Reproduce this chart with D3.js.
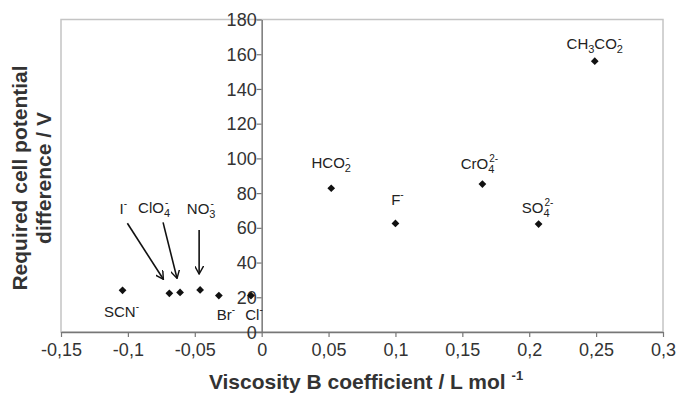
<!DOCTYPE html>
<html><head><meta charset="utf-8">
<script src="https://cdn.jsdelivr.net/npm/d3@7"></script>
<style>
body{margin:0;background:#fff;}
svg{display:block;font-family:"Liberation Sans",Arial,sans-serif;}
</style></head>
<body><div id="chart"></div>
<script>
// ---- data ----
const ions = ["SCN", "I", "ClO4", "NO3", "Br", "Cl", "HCO2", "F", "CrO4", "SO4", "CH3CO2"];
const viscosityB = [-0.104, -0.069, -0.061, -0.046, -0.032, -0.008, 0.052, 0.100, 0.165, 0.207, 0.249];
const cellPotential = [24, 22.3, 22.8, 24.2, 21, 21, 82.8, 62.5, 85.2, 62.2, 156];
const xTicks = [-0.15, -0.1, -0.05, 0, 0.05, 0.1, 0.15, 0.2, 0.25, 0.3];
const yTicks = [0, 20, 40, 60, 80, 100, 120, 140, 160, 180];
// label pieces: [text, kind] kind: n normal, b subscript, p superscript
const labelParts = [
  [["SCN","n"],["-","p"]],
  [["I","n"],["-","p"]],
  [["ClO","n"],["4","b"],["-","p"]],
  [["NO","n"],["3","b"],["-","p"]],
  [["Br","n"],["-","p"]],
  [["Cl","n"],["-","p"]],
  [["HCO","n"],["2","b"],["-","p"]],
  [["F","n"],["-","p"]],
  [["CrO","n"],["4","b"],["2-","p"]],
  [["SO","n"],["4","b"],["2-","p"]],
  [["CH","n"],["3","b"],["CO","n"],["2","b"],["-","p"]]
];
// label offsets (px) from point
const labelOffsets = [[-1,27],[-46,-79],[-26,-79],[1,-76],[7,24],[3,24.5],[0,-20],[2,-18],[-3,-15],[-1,-11],[0,-12]];
// arrows: ion index, start offset from label, end offset from point
const arrows = [[1,[4,9],[-6,-14]],[2,[9,9],[-3,-14]],[3,[-2,16],[-1,-16]]];

const W = 678, H = 395;
const m = {left:61, right:15, top:19.5, bottom:63};
const svg = d3.select("#chart").append("svg").attr("width",W).attr("height",H);
const x = d3.scaleLinear().domain([-0.15,0.3]).range([m.left, W-m.right]);
const y = d3.scaleLinear().domain([0,180]).range([H-m.bottom, m.top]);
const fmt = d => d===0 ? "0" : String(d).replace(".",",");

// plot border
svg.append("rect").attr("x",x(-0.15)).attr("y",y(180)).attr("width",x(0.3)-x(-0.15)).attr("height",y(0)-y(180))
  .attr("fill","none").attr("stroke","#c4c4c4").attr("stroke-width",1.5);

// x axis
const gx = svg.append("g").attr("transform",`translate(0,${y(0)})`)
  .call(d3.axisBottom(x).tickValues(xTicks).tickFormat(fmt).tickSize(5).tickSizeOuter(0));
gx.select(".domain").attr("stroke","#777").attr("stroke-width",1.5);
gx.selectAll(".tick line").attr("stroke","#777").attr("stroke-width",1.2);
gx.selectAll("text").attr("font-size",18).attr("fill","#333").attr("dy","0.9em");

// y axis at x=0
const gy = svg.append("g").attr("transform",`translate(${x(0)},0)`)
  .call(d3.axisLeft(y).tickValues(yTicks).tickFormat(fmt).tickSize(5).tickSizeOuter(0));
gy.select(".domain").attr("stroke","#777").attr("stroke-width",1.5);
gy.selectAll(".tick line").attr("stroke","#777").attr("stroke-width",1.2);
gy.selectAll("text").attr("font-size",18).attr("fill","#333").attr("x",-5).attr("dy","0.34em");

// points
const diamond = d3.symbol().type(d3.symbolSquare).size(30);
svg.append("g").selectAll("path").data(ions).join("path")
  .attr("d",diamond)
  .attr("transform",(d,i)=>`translate(${x(viscosityB[i])},${y(cellPotential[i])}) rotate(45)`)
  .attr("fill","#111");

// labels
const lg = svg.append("g").attr("font-size",15).attr("fill","#222");
ions.forEach((ion,i)=>{
  const px = x(viscosityB[i]) + labelOffsets[i][0];
  const py = y(cellPotential[i]) + labelOffsets[i][1];
  const t = lg.append("text").attr("x",px).attr("y",py).attr("text-anchor","middle");
  let prev = "n";
  labelParts[i].forEach(([s,k])=>{
    const ts = t.append("tspan").text(s);
    if (k==="b"){ ts.attr("font-size",11).attr("dy", prev==="p" ? 7 : 4); }
    else if (k==="p"){ ts.attr("font-size",10).attr("dy", prev==="b" ? -11 : -7);
      if (prev==="b") ts.attr("dx",-5); }
    else { ts.attr("dy", prev==="b" ? -4 : prev==="p" ? 7 : 0); }
    prev = k;
  });
});

// arrows
const defs = svg.append("defs");
defs.append("marker").attr("id","ah").attr("viewBox","0 0 10 10").attr("refX",9).attr("refY",5)
  .attr("markerWidth",9).attr("markerHeight",9).attr("markerUnits","userSpaceOnUse").attr("orient","auto")
  .append("path").attr("d","M0,0 L9,5 L0,10").attr("fill","none").attr("stroke","#111").attr("stroke-width",1.6);
arrows.forEach(([i,so,eo])=>{
  const lx = x(viscosityB[i]) + labelOffsets[i][0] + so[0];
  const ly = y(cellPotential[i]) + labelOffsets[i][1] + so[1];
  const ex = x(viscosityB[i]) + eo[0], ey = y(cellPotential[i]) + eo[1];
  svg.append("line").attr("x1",lx).attr("y1",ly).attr("x2",ex).attr("y2",ey)
    .attr("stroke","#111").attr("stroke-width",1.6).attr("marker-end","url(#ah)");
});

// axis titles
const xt = svg.append("text").attr("x",366).attr("y",389).attr("text-anchor","middle")
  .attr("font-size",21).attr("font-weight","bold").attr("fill","#333");
xt.append("tspan").text("Viscosity B coefficient / L mol ");
xt.append("tspan").text("-1").attr("font-size",13).attr("dy",-9);

const yt = svg.append("text").attr("transform","translate(27,178) rotate(-90)").attr("text-anchor","middle")
  .attr("font-size",21).attr("font-weight","bold").attr("fill","#333");
yt.append("tspan").attr("x",0).attr("y",0).text("Required cell potential");
yt.append("tspan").attr("x",0).attr("y",24).text("difference / V");
</script></body></html>
